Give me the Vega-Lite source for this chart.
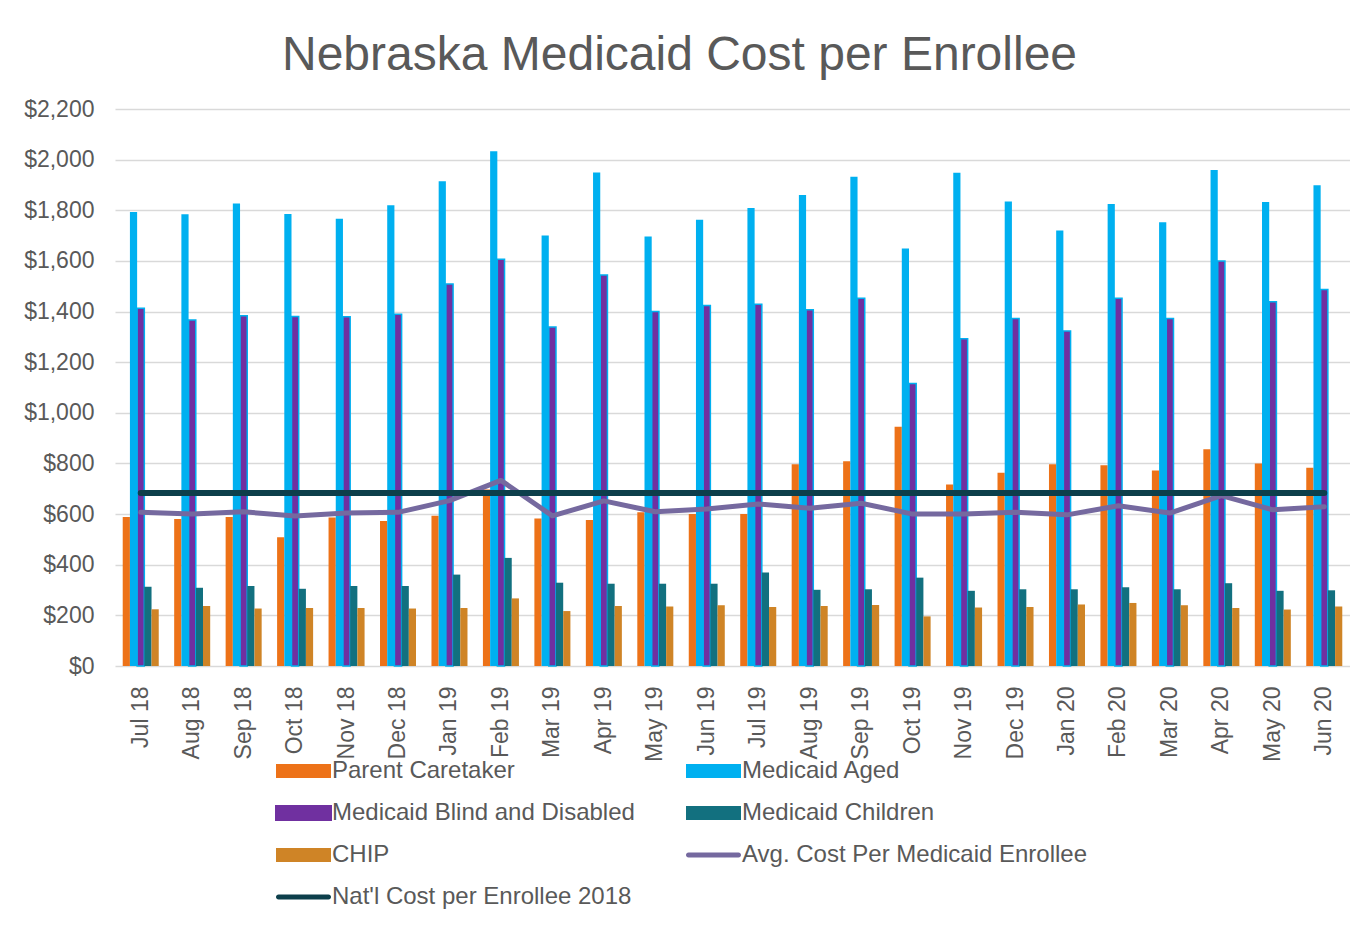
{
  "$schema": "https://vega.github.io/schema/vega-lite/v6.json",
  "width": 1235,
  "height": 557,
  "padding": {"left": 23, "top": 32, "right": 0, "bottom": 0},
  "background": "white",
  "config": {"font": "Liberation Sans", "view": {"stroke": null}},
  "title": {"text": "Nebraska Medicaid Cost per Enrollee", "fontSize": 48, "fontWeight": "normal", "color": "#595959", "anchor": "middle", "frame": "group", "dx": -53, "offset": 18},
  "datasets": {
    "d": [
      {"month": "Jul 18", "parent": 589, "aged": 1793, "blind": 1413, "children": 313, "chip": 224, "avg": 607, "natl": 683},
      {"month": "Aug 18", "parent": 581, "aged": 1784, "blind": 1367, "children": 309, "chip": 237, "avg": 600, "natl": 683},
      {"month": "Sep 18", "parent": 589, "aged": 1827, "blind": 1383, "children": 316, "chip": 227, "avg": 609, "natl": 683},
      {"month": "Oct 18", "parent": 509, "aged": 1785, "blind": 1380, "children": 305, "chip": 229, "avg": 592, "natl": 683},
      {"month": "Nov 18", "parent": 587, "aged": 1767, "blind": 1379, "children": 316, "chip": 229, "avg": 604, "natl": 683},
      {"month": "Dec 18", "parent": 573, "aged": 1820, "blind": 1389, "children": 316, "chip": 227, "avg": 607, "natl": 683},
      {"month": "Jan 19", "parent": 593, "aged": 1915, "blind": 1509, "children": 361, "chip": 229, "avg": 653, "natl": 683},
      {"month": "Feb 19", "parent": 697, "aged": 2033, "blind": 1607, "children": 427, "chip": 267, "avg": 733, "natl": 683},
      {"month": "Mar 19", "parent": 583, "aged": 1700, "blind": 1339, "children": 329, "chip": 217, "avg": 593, "natl": 683},
      {"month": "Apr 19", "parent": 577, "aged": 1949, "blind": 1544, "children": 325, "chip": 237, "avg": 652, "natl": 683},
      {"month": "May 19", "parent": 607, "aged": 1696, "blind": 1400, "children": 325, "chip": 235, "avg": 609, "natl": 683},
      {"month": "Jun 19", "parent": 600, "aged": 1763, "blind": 1424, "children": 325, "chip": 240, "avg": 620, "natl": 683},
      {"month": "Jul 19", "parent": 600, "aged": 1809, "blind": 1429, "children": 369, "chip": 233, "avg": 640, "natl": 683},
      {"month": "Aug 19", "parent": 797, "aged": 1860, "blind": 1407, "children": 301, "chip": 237, "avg": 623, "natl": 683},
      {"month": "Sep 19", "parent": 809, "aged": 1932, "blind": 1453, "children": 303, "chip": 241, "avg": 643, "natl": 683},
      {"month": "Oct 19", "parent": 945, "aged": 1649, "blind": 1116, "children": 349, "chip": 196, "avg": 600, "natl": 683},
      {"month": "Nov 19", "parent": 717, "aged": 1948, "blind": 1293, "children": 297, "chip": 231, "avg": 600, "natl": 683},
      {"month": "Dec 19", "parent": 763, "aged": 1835, "blind": 1373, "children": 303, "chip": 233, "avg": 607, "natl": 683},
      {"month": "Jan 20", "parent": 797, "aged": 1720, "blind": 1323, "children": 303, "chip": 243, "avg": 597, "natl": 683},
      {"month": "Feb 20", "parent": 793, "aged": 1825, "blind": 1453, "children": 311, "chip": 249, "avg": 633, "natl": 683},
      {"month": "Mar 20", "parent": 772, "aged": 1753, "blind": 1373, "children": 303, "chip": 240, "avg": 604, "natl": 683},
      {"month": "Apr 20", "parent": 856, "aged": 1959, "blind": 1600, "children": 327, "chip": 229, "avg": 673, "natl": 683},
      {"month": "May 20", "parent": 800, "aged": 1833, "blind": 1439, "children": 297, "chip": 223, "avg": 617, "natl": 683},
      {"month": "Jun 20", "parent": 783, "aged": 1899, "blind": 1487, "children": 299, "chip": 235, "avg": 629, "natl": 683}
    ]
  },
  "data": {"name": "d"},
  "encoding": {
    "x": {
      "field": "month", "type": "nominal", "sort": null,
      "scale": {"paddingInner": 0.3, "paddingOuter": 0.15},
      "axis": {"title": null, "labelAngle": 270, "labelFontSize": 23, "labelColor": "#595959", "labelPadding": 20, "ticks": false, "tickSize": 0, "domain": false, "grid": false}
    },
    "y": {
      "field": "value", "type": "quantitative",
      "scale": {"domain": [0, 2200], "nice": false},
      "axis": {"title": null, "values": [0, 200, 400, 600, 800, 1000, 1200, 1400, 1600, 1800, 2000, 2200], "format": "$,.0f", "labelFontSize": 23, "labelColor": "#595959", "labelPadding": 21, "ticks": false, "tickSize": 0, "domain": false, "grid": true, "gridColor": "#D9D9D9", "gridWidth": 1.5}
    },
    "color": {
      "field": "series", "type": "nominal",
      "scale": {
        "domain": ["parent", "aged", "blind", "children", "chip", "avg", "natl"],
        "range": ["#ED7218", "#00B0F0", "#7030A0", "#12707F", "#CF8426", "#75699F", "#0D3F4B"]
      },
      "legend": {
        "title": null,
        "orient": "none",
        "legendX": 159,
        "legendY": 650,
        "columns": 2,
        "direction": "horizontal",
        "padding": 0,
        "symbolSize": 400,
        "labelFontSize": 24,
        "labelColor": "#595959",
        "labelOffset": 34,
        "labelLimit": 600,
        "rowPadding": 18,
        "columnPadding": 49,
        "labelExpr": "{'parent':'Parent Caretaker','aged':'Medicaid Aged','blind':'Medicaid Blind and Disabled','children':'Medicaid Children','chip':'CHIP','avg':'Avg. Cost Per Medicaid Enrollee','natl':\"Nat'l Cost per Enrollee 2018\"}[datum.value]",
        "encode": {
          "symbols": {
            "update": {
              "shape": {"signal": "datum.value === 'avg' || datum.value === 'natl' ? 'M-0.75,-0.25H4.25A0.25,0.25 0 0 1 4.25,0.25H-0.75A0.25,0.25 0 0 1 -0.75,-0.25Z' : 'M-1,-0.7H4.5V0.7H-1Z'"},
              "fill": {"signal": "scale('color', datum.value)"},
              "stroke": {"signal": "datum.value === 'blind' ? '#00B0F0' : scale('color', datum.value)"},
              "strokeWidth": {"signal": "datum.value === 'blind' ? 2 : 0"},
              "opacity": {"value": 1},
              "fillOpacity": {"value": 1},
              "strokeOpacity": {"value": 1}
            }
          }
        }
      }
    }
  },
  "layer": [
    {
      "transform": [{"fold": ["parent", "aged", "blind", "children", "chip"], "as": ["series", "value"]}],
      "mark": {"type": "bar", "stroke": "#00B0F0"},
      "encoding": {
        "xOffset": {"field": "series", "type": "nominal", "scale": {"domain": ["parent", "aged", "blind", "children", "chip"], "paddingInner": 0, "paddingOuter": 0}},
        "strokeWidth": {"condition": {"test": "datum.series === 'blind'", "value": 1.5}, "value": 0}
      }
    },
    {
      "transform": [{"fold": ["avg"], "as": ["series", "value"]}],
      "mark": {"type": "line", "strokeWidth": 5, "strokeCap": "round", "strokeJoin": "round"},
      "encoding": {}
    },
    {
      "transform": [{"fold": ["natl"], "as": ["series", "value"]}],
      "mark": {"type": "line", "strokeWidth": 6, "strokeCap": "round"},
      "encoding": {}
    }
  ]
}
